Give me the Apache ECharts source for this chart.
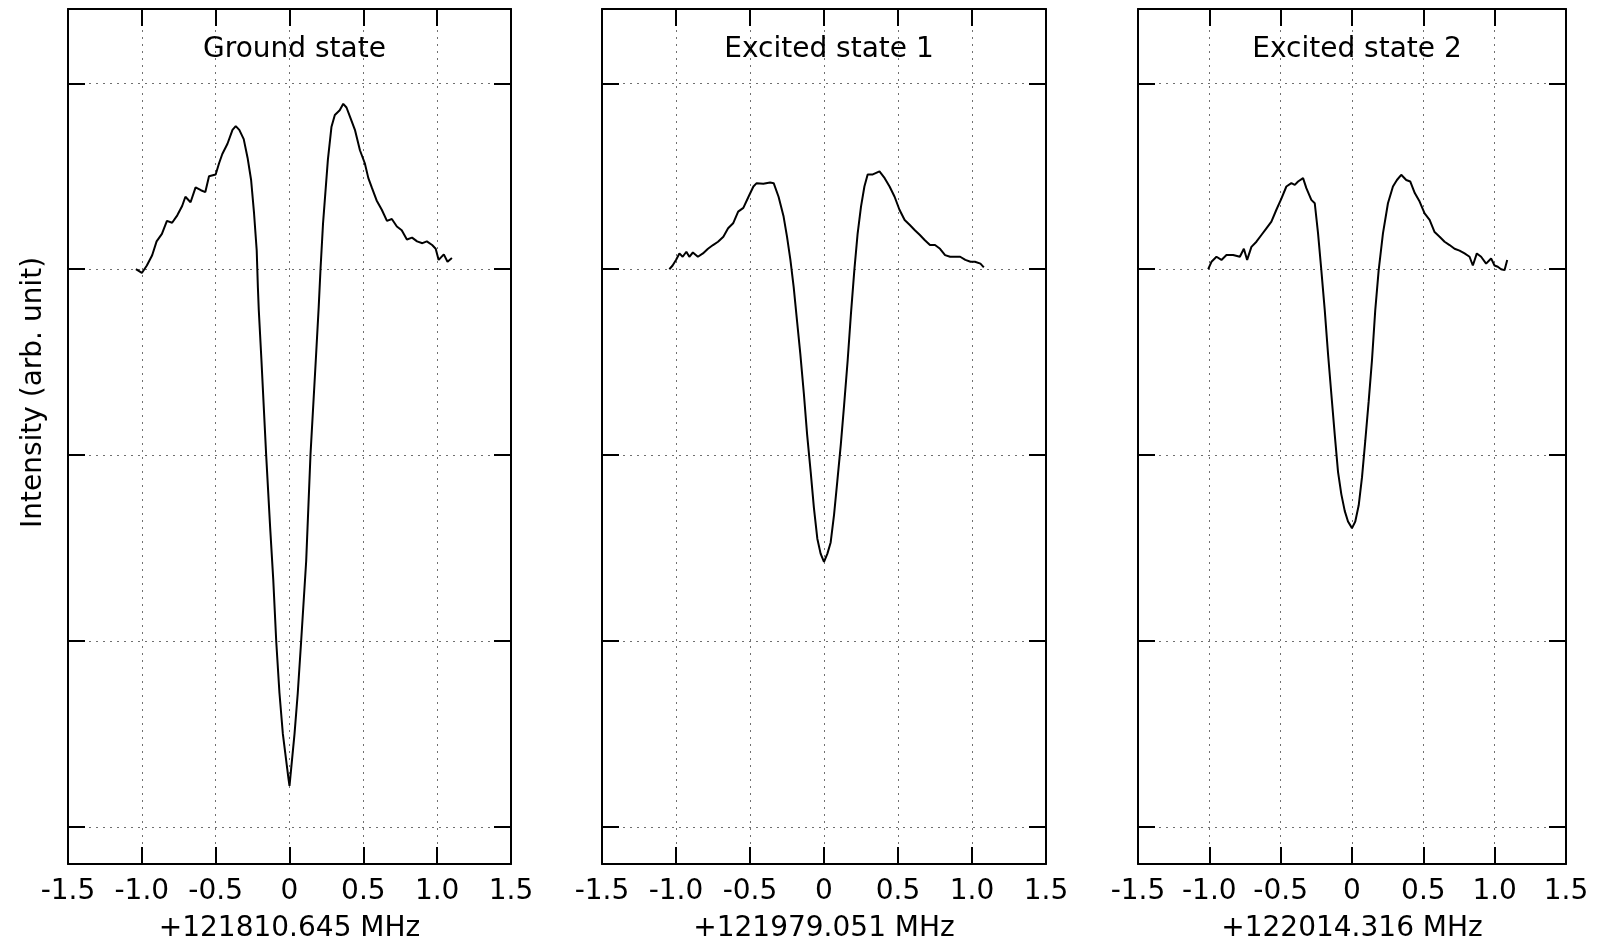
<!DOCTYPE html>
<html>
<head>
<meta charset="utf-8">
<title>Line profiles</title>
<script src="https://cdn.jsdelivr.net/npm/echarts@6/dist/echarts.min.js"></script>
<style>
  html, body { margin: 0; padding: 0; background: #fff; }
  #chart { width: 1601px; height: 942px; }
</style>
</head>
<body>
<div id="chart"></div>
<script>
// Panel titles and x-axis offsets (MHz)
const panelTitles = ['Ground state', 'Excited state 1', 'Excited state 2'];
const axisNames = ['+121810.645 MHz', '+121979.051 MHz', '+122014.316 MHz'];

// Frequency tick values and their printed labels
const xTickValues = [-1.5, -1.0, -0.5, 0, 0.5, 1.0, 1.5];
const xTickLabels = ['-1.5', '-1.0', '-0.5', '0', '0.5', '1.0', '1.5'];

// Ground state: detuning (MHz) and intensity (arb. unit)
const groundX = [-1.04, -1.00, -0.966, -0.93, -0.90, -0.864, -0.83, -0.795, -0.76, -0.727, -0.705, -0.67, -0.636, -0.60, -0.57, -0.545, -0.50, -0.477, -0.455, -0.42, -0.386, -0.364, -0.34, -0.31, -0.284, -0.26, -0.24, -0.222, -0.214, -0.208, -0.19, -0.158, -0.131, -0.11, -0.09, -0.068, -0.045, -0.023, -0.007, 0.0, 0.011, 0.034, 0.056, 0.079, 0.113, 0.142, 0.178, 0.198, 0.21, 0.227, 0.26, 0.284, 0.307, 0.34, 0.364, 0.386, 0.41, 0.443, 0.477, 0.51, 0.534, 0.557, 0.59, 0.625, 0.66, 0.693, 0.727, 0.76, 0.795, 0.83, 0.864, 0.90, 0.93, 0.966, 0.99, 1.01, 1.045, 1.07, 1.10];
const groundY = [3.00, 2.98, 3.02, 3.075, 3.15, 3.19, 3.26, 3.25, 3.29, 3.34, 3.39, 3.36, 3.44, 3.425, 3.415, 3.50, 3.51, 3.57, 3.62, 3.675, 3.75, 3.77, 3.75, 3.70, 3.60, 3.48, 3.30, 3.10, 2.90, 2.78, 2.51, 2.00, 1.61, 1.33, 1.00, 0.72, 0.50, 0.36, 0.26, 0.22, 0.31, 0.50, 0.72, 1.00, 1.43, 2.00, 2.51, 2.80, 3.00, 3.245, 3.59, 3.765, 3.83, 3.855, 3.89, 3.87, 3.82, 3.75, 3.64, 3.57, 3.49, 3.44, 3.37, 3.32, 3.26, 3.27, 3.23, 3.21, 3.16, 3.17, 3.15, 3.14, 3.15, 3.13, 3.11, 3.05, 3.08, 3.04, 3.06];

// Excited state 1
const excited1X = [-1.045, -1.023, -1.0, -0.977, -0.955, -0.93, -0.91, -0.886, -0.852, -0.818, -0.784, -0.75, -0.716, -0.68, -0.648, -0.614, -0.58, -0.545, -0.51, -0.477, -0.455, -0.41, -0.364, -0.34, -0.307, -0.273, -0.25, -0.227, -0.205, -0.182, -0.16, -0.136, -0.114, -0.09, -0.068, -0.045, -0.023, 0.0, 0.023, 0.045, 0.068, 0.09, 0.114, 0.136, 0.16, 0.182, 0.205, 0.227, 0.25, 0.273, 0.295, 0.33, 0.375, 0.41, 0.443, 0.477, 0.51, 0.545, 0.58, 0.614, 0.648, 0.68, 0.716, 0.75, 0.784, 0.818, 0.852, 0.886, 0.92, 0.955, 0.99, 1.02, 1.057, 1.08];
const excited1Y = [3.00, 3.02, 3.05, 3.085, 3.067, 3.094, 3.067, 3.09, 3.067, 3.085, 3.11, 3.13, 3.148, 3.175, 3.22, 3.247, 3.31, 3.33, 3.39, 3.445, 3.463, 3.46, 3.467, 3.463, 3.39, 3.283, 3.175, 3.05, 2.905, 2.72, 2.545, 2.33, 2.11, 1.91, 1.715, 1.55, 1.47, 1.425, 1.47, 1.53, 1.68, 1.86, 2.06, 2.27, 2.51, 2.76, 2.995, 3.19, 3.337, 3.445, 3.51, 3.51, 3.526, 3.49, 3.445, 3.39, 3.32, 3.265, 3.238, 3.21, 3.184, 3.157, 3.13, 3.13, 3.11, 3.076, 3.067, 3.067, 3.067, 3.05, 3.04, 3.04, 3.03, 3.01];

// Excited state 2
const excited2X = [-1.008, -0.985, -0.95, -0.915, -0.88, -0.833, -0.786, -0.758, -0.735, -0.705, -0.67, -0.635, -0.6, -0.565, -0.53, -0.495, -0.46, -0.425, -0.401, -0.378, -0.343, -0.32, -0.285, -0.261, -0.238, -0.215, -0.191, -0.168, -0.145, -0.121, -0.098, -0.075, -0.051, -0.028, 0.0, 0.023, 0.047, 0.07, 0.093, 0.117, 0.14, 0.163, 0.187, 0.217, 0.252, 0.287, 0.315, 0.345, 0.38, 0.408, 0.44, 0.474, 0.509, 0.544, 0.579, 0.614, 0.649, 0.684, 0.719, 0.754, 0.789, 0.824, 0.847, 0.875, 0.905, 0.94, 0.975, 0.999, 1.022, 1.045, 1.069, 1.088];
const excited2Y = [3.00, 3.04, 3.067, 3.05, 3.076, 3.076, 3.067, 3.11, 3.05, 3.12, 3.148, 3.184, 3.22, 3.256, 3.32, 3.38, 3.445, 3.463, 3.454, 3.472, 3.49, 3.436, 3.373, 3.355, 3.193, 2.995, 2.78, 2.544, 2.33, 2.11, 1.91, 1.79, 1.70, 1.643, 1.607, 1.643, 1.73, 1.88, 2.076, 2.29, 2.51, 2.78, 2.995, 3.193, 3.355, 3.445, 3.48, 3.508, 3.48, 3.472, 3.41, 3.364, 3.3, 3.265, 3.2, 3.175, 3.148, 3.13, 3.11, 3.1, 3.085, 3.067, 3.02, 3.085, 3.067, 3.03, 3.058, 3.02, 3.013, 3.0, 2.995, 3.05];

const panelX = [groundX, excited1X, excited2X];
const panelY = [groundY, excited1Y, excited2Y];

// Plot frames (pixels)
const frames = [
  { left: 68, width: 443 },
  { left: 602, width: 444 },
  { left: 1138, width: 428 }
];
const frameTop = 9;
const frameHeight = 855;

const FONT = 'DejaVu Sans';
const FONT_SIZE = 28;

const gridLineStyle = { color: '#707070', width: 1, type: [2, 5] };
const frameLine = { show: true, onZero: false, lineStyle: { color: '#000', width: 2 } };
const tickStyle = { show: true, inside: true, length: 17, lineStyle: { color: '#000', width: 2 } };

function formatX(v) {
  const i = xTickValues.findIndex(t => Math.abs(t - v) < 1e-6);
  return i >= 0 ? xTickLabels[i] : '';
}

const grid = [], xAxis = [], yAxis = [], series = [], title = [];

frames.forEach((f, p) => {
  grid.push({
    left: f.left, top: frameTop, width: f.width, height: frameHeight,
    containLabel: false, outerBoundsMode: 'none'
  });

  title.push({
    text: panelTitles[p],
    left: f.left + f.width / 2,
    top: 31,
    textAlign: 'center',
    textStyle: { fontFamily: FONT, fontSize: FONT_SIZE, fontWeight: 'normal', color: '#000' }
  });

  // bottom frequency axis
  xAxis.push({
    type: 'value', gridIndex: p, position: 'bottom',
    min: -1.5, max: 1.5, interval: 0.5,
    name: axisNames[p], nameLocation: 'middle', nameGap: 51,
    nameTextStyle: { fontFamily: FONT, fontSize: FONT_SIZE, color: '#000' },
    axisLine: frameLine, axisTick: tickStyle,
    axisLabel: { margin: 14, fontFamily: FONT, fontSize: FONT_SIZE, color: '#000', formatter: formatX },
    splitLine: { show: true, showMinLine: false, showMaxLine: false, lineStyle: gridLineStyle }
  });
  // mirrored top axis
  xAxis.push({
    type: 'value', gridIndex: p, position: 'top',
    min: -1.5, max: 1.5, interval: 0.5,
    axisLine: frameLine, axisTick: tickStyle,
    axisLabel: { show: false }, splitLine: { show: false }
  });

  // left intensity axis
  yAxis.push({
    type: 'value', gridIndex: p, position: 'left',
    min: -0.2, max: 4.4, splitNumber: 5,
    name: p === 0 ? 'Intensity (arb. unit)' : '',
    nameLocation: 'middle', nameRotate: 90, nameGap: 20,
    nameTextStyle: { fontFamily: FONT, fontSize: FONT_SIZE, color: '#000', padding: [0, 0, 0, 88] },
    axisLine: frameLine, axisTick: tickStyle,
    axisLabel: { show: false },
    splitLine: { show: true, showMinLine: false, showMaxLine: false, lineStyle: gridLineStyle }
  });
  // mirrored right axis
  yAxis.push({
    type: 'value', gridIndex: p, position: 'right',
    min: -0.2, max: 4.4, splitNumber: 5,
    axisLine: frameLine, axisTick: tickStyle,
    axisLabel: { show: false }, splitLine: { show: false }
  });

  series.push({
    type: 'line',
    name: panelTitles[p],
    xAxisIndex: p * 2,
    yAxisIndex: p * 2,
    data: panelX[p].map((x, i) => [x, panelY[p][i]]),
    showSymbol: false,
    smooth: false,
    lineStyle: { color: '#000', width: 2 },
    z: 5
  });
});

const chart = echarts.init(document.getElementById('chart'), null, { renderer: 'canvas' });
chart.setOption({
  animation: false,
  backgroundColor: '#fff',
  title, grid, xAxis, yAxis, series
});
</script>
</body>
</html>
